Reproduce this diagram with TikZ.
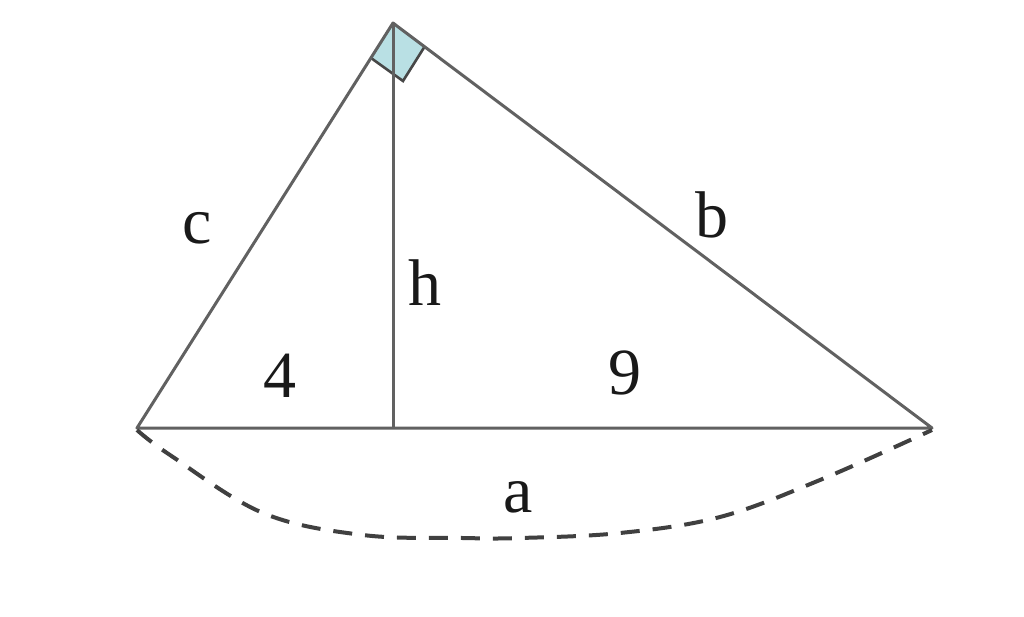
\documentclass[tikz,border=0pt]{standalone}
\usepackage{fontspec}
\setmainfont{Liberation Serif}
\definecolor{markfill}{RGB}{185,224,228}
\begin{document}
\begin{tikzpicture}[x=1pt,y=-1pt,
  edge/.style={draw=black!62,line width=3pt,line join=round},
  lbl/.style={font=\fontsize{66}{70}\selectfont,inner sep=0pt,text=black!90},
  arcline/.style={draw=black!75,line width=4pt,dash pattern=on 19pt off 13pt}]
\useasboundingbox (0,0) rectangle (1024,616);
\coordinate (A) at (393,23);
\coordinate (L) at (137,428);
\coordinate (R) at (932,428);
\coordinate (H) at (393,428);
\coordinate (M1) at (371,58);
\coordinate (M2) at (425,46);
\coordinate (M3) at (403,81);
\fill[markfill] (A) -- (M1) -- (M3) -- (M2) -- cycle;
\draw[draw=black!72,line width=2.6pt] (M1) -- (M3) -- (M2);
\draw[edge] (L) -- (A) -- (R) -- cycle;
\draw[edge] (A) -- (H);
\draw[arcline] plot[smooth,tension=0.6] coordinates {(137,430) (170,455) (263,513) (363,535) (463,538) (520,538) (620,533) (720,517) (820,480) (932,430)};
\node[lbl] (c) at (197,228) {c};
\node[lbl] (h) at (425,283) {h};
\node[lbl] (b) at (712,215) {b};
\node[lbl] (n4) at (280,376) {4};
\node[lbl] (n9) at (625,373) {9};
\node[lbl] (a) at (518,497) {a};
\end{tikzpicture}
\end{document}
